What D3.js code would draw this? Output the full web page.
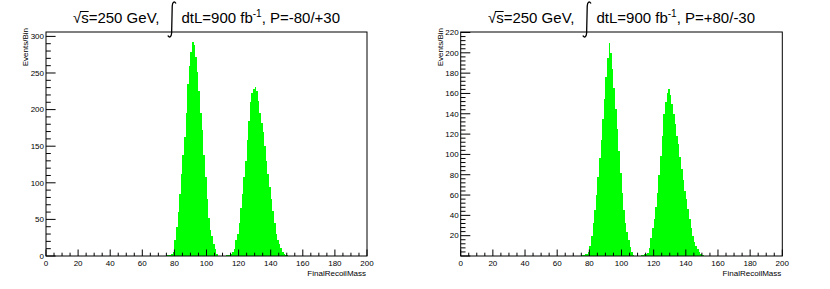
<!DOCTYPE html>
<html>
<head>
<meta charset="utf-8">
<script src="https://cdn.jsdelivr.net/npm/d3@7"></script>
<style>
body { margin: 0; background: #fff; }
svg { display: block; font-family: "Liberation Sans", Arial, Helvetica, sans-serif; }
</style>
</head>
<body>
<svg width="830" height="289"></svg>
<script>
// first bin low edge (GeV), 1 GeV bins
const massStart = 75;

// P=-80/+30
const countsM80P30 = [1, 1, 2, 3, 6, 22, 40, 60, 85, 112, 138, 162, 195, 235, 260, 278, 292, 288, 272, 252,
  225, 195, 172, 138, 108, 78, 52, 36, 27, 16, 9, 3, 0, 0, 0, 0, 0, 1, 2, 2,
  3, 5, 10, 22, 30, 45, 65, 85, 108, 130, 158, 185, 210, 222, 228, 231, 225, 212, 195, 182,
  170, 150, 130, 112, 94, 78, 62, 45, 30, 22, 16, 11, 6, 3, 2, 1];

// P=+80/-30
const countsP80M30 = [1, 1, 2, 2, 4, 10, 20, 32, 45, 60, 78, 96, 114, 135, 155, 176, 195, 210, 200, 184,
  165, 145, 125, 103, 82, 62, 45, 32, 24, 16, 9, 4, 1, 0, 0, 0, 0, 1, 1, 2,
  2, 3, 8, 18, 28, 36, 48, 62, 80, 98, 118, 140, 152, 160, 164, 158, 150, 140, 130, 118,
  110, 97, 86, 75, 64, 56, 46, 36, 28, 20, 14, 10, 7, 4, 2, 1];

const yTopM80P30 = 306;
const yTopP80M30 = 220.5;

const xTickLabels = [0, 20, 40, 60, 80, 100, 120, 140, 160, 180, 200];
const yTicksM80P30 = [0, 50, 100, 150, 200, 250, 300];
const yTicksP80M30 = [20, 40, 60, 80, 100, 120, 140, 160, 180, 200, 220];

const svg = d3.select('svg');
const frameTop = 32, frameBottom = 256;

function panel(x0, x1, counts, yTop, yTicks, yMinorStep, polText, showY0) {
    const g = svg.append("g");
    const x = d3.scaleLinear().domain([0, 200]).range([x0, x1]);
    const y = d3.scaleLinear().domain([0, yTop]).range([frameBottom, frameTop]);

    // histogram (bin edges snapped to whole pixels, like the ROOT raster)
    const bins = counts.map((c, i) => ({m: massStart + i, c: c}));
    bins.push({m: massStart + counts.length, c: counts[counts.length - 1]});
    const area = d3.area()
        .curve(d3.curveStepAfter)
        .x(d => Math.round(x(d.m)))
        .y0(y(0))
        .y1(d => Math.round(y(d.c)));
    g.append("path")
        .datum(bins)
        .attr("d", area)
        .style("fill", "#00ff00");

    // x ticks (inside, upward)
    g.selectAll(".xmin").data(d3.range(0, 201, 5)).enter().append("line")
        .attr("x1", d => x(d)).attr("x2", d => x(d))
        .attr("y1", frameBottom).attr("y2", d => d % 20 == 0 ? frameBottom - 6.5 : frameBottom - 3.3)
        .style("stroke", "#000");
    g.selectAll(".xlab").data(xTickLabels).enter().append("text")
        .attr("x", d => x(d)).attr("y", 265.5)
        .attr("text-anchor", "middle")
        .style("font-size", "8px")
        .text(d => d);

    // y ticks (inside, to the right)
    g.selectAll(".ymin").data(d3.range(0, yTop, yMinorStep)).enter().append("line")
        .attr("x1", x0).attr("x2", (d, i) => i % 5 == 0 ? x0 + 9.6 : x0 + 4.8)
        .attr("y1", d => y(d)).attr("y2", d => y(d))
        .style("stroke", "#000");
    g.selectAll(".ylab").data(showY0 ? yTicks : yTicks.filter(d => d != 0)).enter().append("text")
        .attr("x", x0 - 2).attr("y", d => y(d) + 2.8)
        .attr("text-anchor", "end")
        .style("font-size", "8px")
        .text(d => d);

    // frame
    g.append("rect")
        .attr("x", x0).attr("y", frameTop)
        .attr("width", x1 - x0).attr("height", frameBottom - frameTop)
        .style("fill", "none").style("stroke", "#000");

    // axis titles
    g.append("text")
        .attr("x", x1 - 1).attr("y", 276)
        .attr("text-anchor", "end")
        .style("font-size", "8px")
        .text("FinalRecoilMass");
    g.append("text")
        .attr("transform", "translate(" + (x0 - 18) + "," + 28 + ") rotate(-90)")
        .attr("text-anchor", "end")
        .style("font-size", "8px")
        .text("Events/Bin");

    // title: sqrt(s)=250 GeV, integral dtL=900 fb^-1, P=...
    const parts = [
        {t: "\u221A", fs: 15, dy: 0},
        {t: "s", fs: 15, dy: 0, over: true},
        {t: "=250 GeV,", fs: 15, dy: 0},
        {gap: 8},
        {integral: 9},
        {gap: 5},
        {t: "dtL=900 fb", fs: 15, dy: 0},
        {t: "-1", fs: 10, dy: -6},
        {t: ",\u00A0" + polText, fs: 15, dy: 0}
    ];
    const tg = g.append("g");
    let cur = 0;
    parts.forEach(p => {
        if (p.gap) { cur += p.gap; return; }
        if (p.integral) {
            tg.append("path")
                .attr("d", "M" + (cur + 8.5) + ",3.5 C" + (cur + 7.5) + ",1 " + (cur + 5) + ",1.5 " + (cur + 4.8) + ",6"
                    + " L" + (cur + 4.2) + ",33 C" + (cur + 4) + ",37.5 " + (cur + 1.5) + ",38 " + (cur + 0.5) + ",35.5")
                .style("fill", "none").style("stroke", "#000").style("stroke-width", 1.3);
            cur += p.integral;
            return;
        }
        const t = tg.append("text")
            .attr("x", cur).attr("y", 23 + p.dy)
            .style("font-size", p.fs + "px")
            .text(p.t);
        const w = t.node().getComputedTextLength();
        if (p.over) {
            tg.append("line")
                .attr("x1", cur - 1).attr("x2", cur + w)
                .attr("y1", 11.5).attr("y2", 11.5)
                .style("stroke", "#000").style("stroke-width", 1);
        }
        cur += w;
    });
    tg.attr("transform", "translate(" + ((x0 + x1) / 2 - cur / 2) + ",0)");
}

panel(46, 367, countsM80P30, yTopM80P30, yTicksM80P30, 10, "P=-80/+30", true);
panel(460.7, 782.3, countsP80M30, yTopP80M30, yTicksP80M30, 4, "P=+80/-30", false);
</script>
</body>
</html>
